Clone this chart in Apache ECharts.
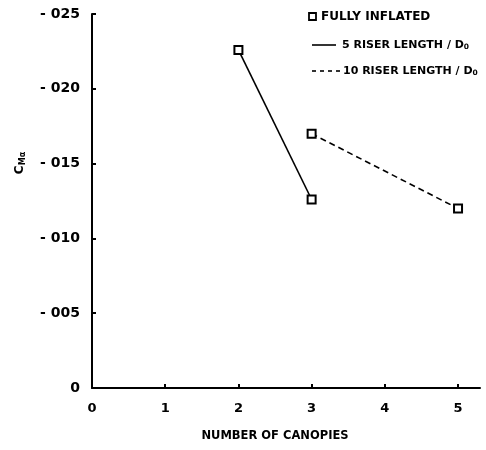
<!DOCTYPE html>
<html>
<head>
<meta charset="utf-8">
<script src="https://cdn.jsdelivr.net/npm/echarts@6/dist/echarts.min.js"></script>
<style>
  html, body { margin: 0; padding: 0; background: #fff; }
  #chart { width: 486px; height: 450px; }
</style>
</head>
<body>
<div id="chart"></div>
<script>
// Number of canopies vs. pitching-moment slope C_Mα (fully inflated canopies)
const canopies5 = [2, 3];
const cma5 = [-0.0226, -0.0126];      // 5 riser length / D0
const canopies10 = [3, 5];
const cma10 = [-0.0170, -0.0120];     // 10 riser length / D0
const xTickValues = [0, 1, 2, 3, 4, 5];
const yTickValues = [0, -0.005, -0.010, -0.015, -0.020, -0.025];

const FONT = "'DejaVu Sans', 'Liberation Sans', Arial, sans-serif";

function pairs(xs, ys) {
  return xs.map((x, i) => [x, ys[i]]);
}

function yLabel(v) {
  if (Math.abs(v) < 1e-9) return '0';
  return '- ' + String(Math.round(-v * 1000)).padStart(3, '0');
}

const markerStyle = { color: '#fff', borderColor: '#000', borderWidth: 2 };

const legendRich = {
  h: { fontFamily: FONT, fontWeight: 'bold', fontSize: 12, fill: '#000' },
  t: { fontFamily: FONT, fontWeight: 'bold', fontSize: 11, fill: '#000' },
  s: { fontFamily: FONT, fontWeight: 'bold', fontSize: 7.5, fill: '#000', padding: [5, 0, 0, 0] }
};

const chart = echarts.init(document.getElementById('chart'), null, { renderer: 'canvas' });
chart.setOption({
  animation: false,
  backgroundColor: '#fff',
  grid: { left: 92, right: 6, top: 14, bottom: 62, containLabel: false },
  xAxis: {
    type: 'value',
    min: 0,
    max: 5.3,
    interval: 1,
    splitLine: { show: false },
    axisLine: { show: true, onZero: false, lineStyle: { color: '#000', width: 2 } },
    axisTick: {
      show: true, inside: true, length: 4,
      customValues: xTickValues.slice(1),
      lineStyle: { color: '#000', width: 2 }
    },
    axisLabel: {
      customValues: xTickValues,
      margin: 14,
      color: '#000',
      fontFamily: FONT,
      fontWeight: 'bold',
      fontSize: 13,
      formatter: v => String(Math.round(v))
    },
    name: 'NUMBER OF CANOPIES',
    nameLocation: 'middle',
    nameGap: 42,
    nameTextStyle: {
      color: '#000', fontFamily: FONT, fontWeight: 'bold', fontSize: 11.5,
      padding: [0, 22, 0, 0]
    }
  },
  yAxis: {
    type: 'value',
    min: -0.025,
    max: 0,
    interval: 0.005,
    inverse: true,
    splitLine: { show: false },
    axisLine: { show: true, onZero: false, lineStyle: { color: '#000', width: 2 } },
    axisTick: {
      show: true, inside: true, length: 4,
      customValues: yTickValues.slice(1),
      lineStyle: { color: '#000', width: 2 }
    },
    axisLabel: {
      customValues: yTickValues,
      margin: 12,
      color: '#000',
      fontFamily: FONT,
      fontWeight: 'bold',
      fontSize: 14,
      formatter: yLabel
    }
  },
  series: [
    {
      name: '5 RISER LENGTH / D0',
      type: 'line',
      data: pairs(canopies5, cma5),
      symbol: 'rect',
      symbolSize: 8,
      itemStyle: markerStyle,
      lineStyle: { color: '#000', width: 1.6, type: 'solid' },
      z: 3
    },
    {
      name: '10 RISER LENGTH / D0',
      type: 'line',
      data: pairs(canopies10, cma10),
      symbol: 'rect',
      symbolSize: 8,
      itemStyle: markerStyle,
      lineStyle: { color: '#000', width: 1.6, type: [6, 4] },
      z: 3
    }
  ],
  graphic: [
    // y-axis title: C with subscript Mα, written vertically
    {
      type: 'text',
      x: 20, y: 163,
      rotation: Math.PI / 2,
      style: {
        text: '{c|C}{s|Mα}',
        align: 'center',
        verticalAlign: 'middle',
        rich: {
          c: { fontFamily: FONT, fontWeight: 'bold', fontSize: 12, fill: '#000' },
          s: { fontFamily: FONT, fontWeight: 'bold', fontSize: 8, fill: '#000', padding: [6, 0, 0, 0] }
        }
      }
    },
    // legend
    {
      type: 'rect',
      shape: { x: 309, y: 13, width: 7, height: 7 },
      style: { fill: '#fff', stroke: '#000', lineWidth: 1.8 }
    },
    {
      type: 'text', x: 321, y: 17,
      style: { text: '{h|FULLY INFLATED}', verticalAlign: 'middle', rich: legendRich }
    },
    {
      type: 'line',
      shape: { x1: 312, y1: 45, x2: 336, y2: 45 },
      style: { stroke: '#000', lineWidth: 1.6 }
    },
    {
      type: 'text', x: 342, y: 45,
      style: { text: '{t|5 RISER LENGTH / D}{s|0}', verticalAlign: 'middle', rich: legendRich }
    },
    {
      type: 'line',
      shape: { x1: 312, y1: 71, x2: 340, y2: 71 },
      style: { stroke: '#000', lineWidth: 1.6, lineDash: [4, 4] }
    },
    {
      type: 'text', x: 343, y: 71,
      style: { text: '{t|10 RISER LENGTH / D}{s|0}', verticalAlign: 'middle', rich: legendRich }
    }
  ]
});
</script>
</body>
</html>
